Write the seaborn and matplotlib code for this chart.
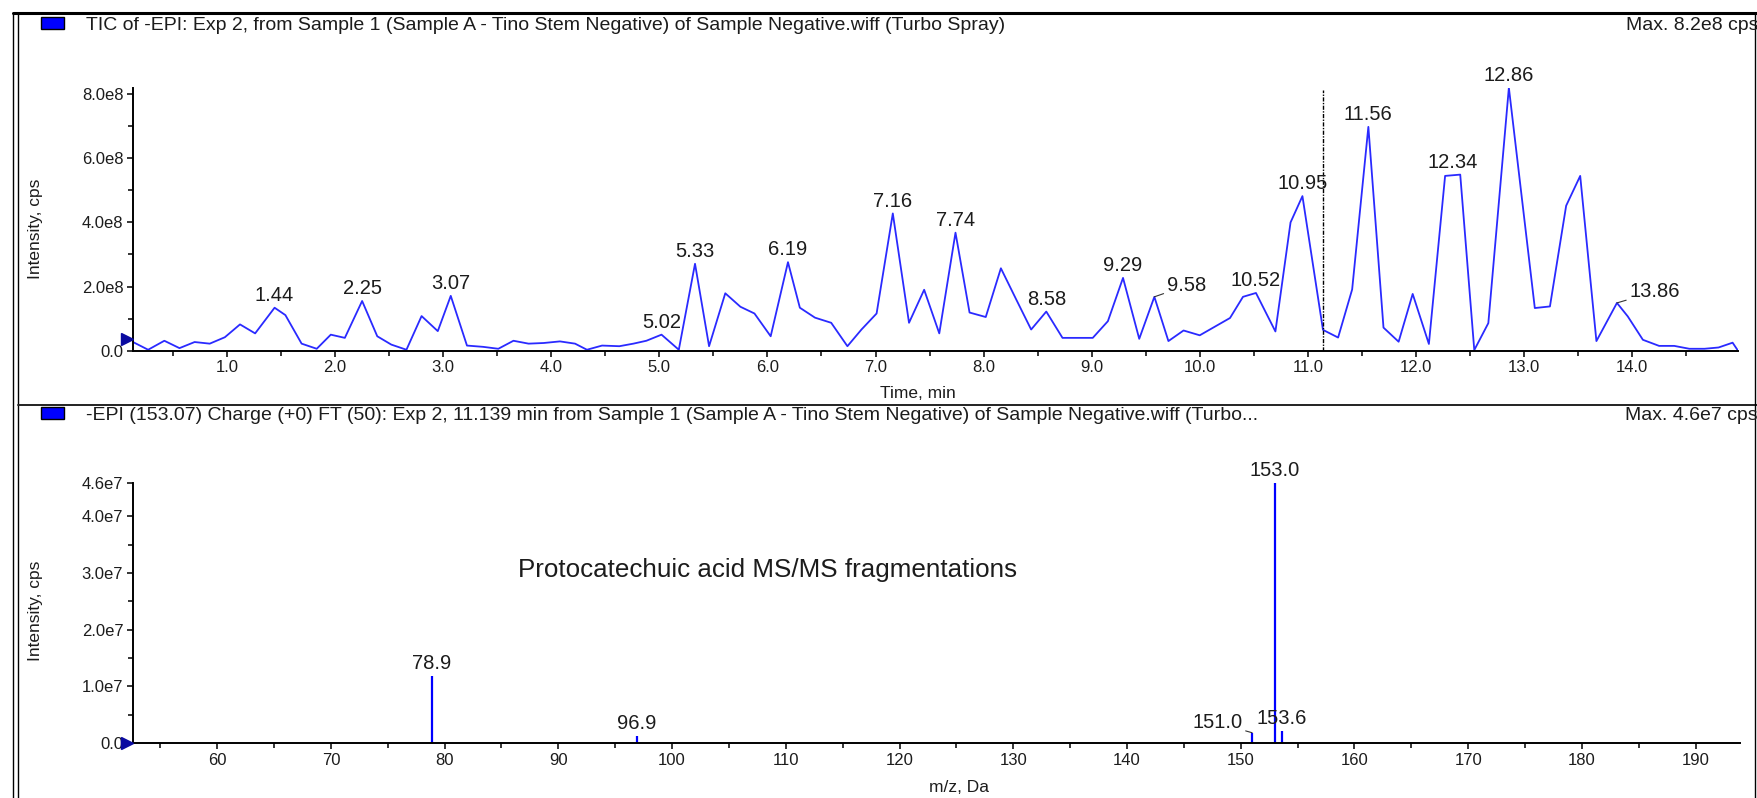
import numpy as np
import pandas as pd
import matplotlib
matplotlib.use("Agg")
import matplotlib.pyplot as plt
import matplotlib.transforms as mtransforms
from matplotlib.lines import Line2D
from matplotlib.patches import Rectangle
from matplotlib.ticker import FixedLocator, FuncFormatter
import seaborn as sns

# ---- TIC trace (retention time in min, intensity in cps) ----
tic_time = [0.13, 0.27, 0.42, 0.56, 0.70, 0.84, 0.98, 1.12, 1.26, 1.44, 1.54, 1.69,
            1.83, 1.96, 2.09, 2.25, 2.39, 2.52, 2.66, 2.80, 2.95, 3.07, 3.22, 3.37,
            3.51, 3.65, 3.79, 3.93, 4.08, 4.22, 4.33, 4.47, 4.63, 4.76, 4.88, 5.02,
            5.18, 5.33, 5.46, 5.61, 5.75, 5.88, 6.03, 6.19, 6.30, 6.44, 6.59, 6.74,
            6.87, 7.01, 7.16, 7.31, 7.45, 7.59, 7.74, 7.87, 8.02, 8.16, 8.30, 8.44,
            8.58, 8.73, 8.87, 9.01, 9.15, 9.29, 9.44, 9.58, 9.71, 9.85, 10.00, 10.14,
            10.28, 10.40, 10.52, 10.70, 10.84, 10.95, 11.14, 11.28, 11.41, 11.56, 11.70,
            11.84, 11.97, 12.12, 12.27, 12.41, 12.54, 12.67, 12.86, 13.10, 13.24, 13.39,
            13.52, 13.67, 13.86, 13.96, 14.10, 14.25, 14.39, 14.53, 14.67, 14.80, 14.93,
            14.98]
tic_intensity_e8 = [0.27, 0.03, 0.31, 0.08, 0.27, 0.22, 0.42, 0.82, 0.54, 1.34, 1.11, 0.22,
                    0.06, 0.50, 0.40, 1.55, 0.45, 0.19, 0.03, 1.08, 0.61, 1.71, 0.16, 0.12,
                    0.06, 0.31, 0.22, 0.24, 0.29, 0.22, 0.03, 0.16, 0.14, 0.22, 0.31, 0.50,
                    0.03, 2.71, 0.14, 1.79, 1.37, 1.16, 0.45, 2.76, 1.34, 1.03, 0.87, 0.14,
                    0.66, 1.16, 4.28, 0.87, 1.90, 0.54, 3.68, 1.19, 1.05, 2.57, 1.61, 0.66,
                    1.22, 0.40, 0.40, 0.40, 0.92, 2.27, 0.37, 1.68, 0.30, 0.63, 0.48, 0.75,
                    1.02, 1.68, 1.80, 0.60, 4.00, 4.82, 0.65, 0.41, 1.91, 6.98, 0.72,
                    0.28, 1.77, 0.21, 5.45, 5.49, 0.02, 0.86, 8.20, 1.33, 1.38, 4.52,
                    5.45, 0.30, 1.49, 1.07, 0.34, 0.15, 0.15, 0.06, 0.06, 0.10, 0.25,
                    0.00]
tic_intensity = [v * 1e8 for v in tic_intensity_e8]

# Peak labels on the TIC
tic_peaks = [1.44, 2.25, 3.07, 5.02, 5.33, 6.19, 7.16, 7.74, 8.58, 9.29, 9.58,
             10.52, 10.95, 11.56, 12.34, 12.86, 13.86]
tic_peaks_leader = [9.58, 13.86]
selected_time = 11.139

# ---- MS/MS spectrum at 11.139 min ----
ms_mz = [78.9, 96.9, 151.0, 153.0, 153.6]
ms_intensity = [1.18e7, 1.3e6, 1.8e6, 4.6e7, 2.1e6]
ms_leader = [151.0]

title_tic = ("TIC of -EPI: Exp 2, from Sample 1 (Sample A - Tino Stem Negative) "
             "of Sample Negative.wiff (Turbo Spray)")
title_ms = ("-EPI (153.07) Charge (+0) FT (50): Exp 2, 11.139 min from Sample 1 "
            "(Sample A - Tino Stem Negative) of Sample Negative.wiff (Turbo...")
max_tic = "Max. 8.2e8 cps"
max_ms = "Max. 4.6e7 cps"
note = "Protocatechuic acid MS/MS fragmentations"

# ---- styling ----
sns.set_theme(style="white")
plt.rcParams["font.family"] = ["Liberation Sans", "DejaVu Sans"]
TXT = "#1c1c1c"
TRACE = "#2a2aff"
STICK = "#0000ff"
PEAK_FS = 14.5
HEAD_FS = 14
LABEL_FS = 12.5

W, H = 1757, 798
fig = plt.figure(figsize=(W / 100, H / 100), dpi=100)
fig.patch.set_facecolor("white")


def frac_box(x0, x1, y_top, y_bot):
    return [x0 / W, 1 - y_bot / H, (x1 - x0) / W, (y_bot - y_top) / H]


ax1 = fig.add_axes(frac_box(133, 1738, 87.7, 350.7))
ax2 = fig.add_axes(frac_box(133, 1740, 482.5, 742.9))

for ax in (ax1, ax2):
    ax.set_facecolor("white")
    for s in ("top", "right"):
        ax.spines[s].set_visible(False)
    for s in ("left", "bottom"):
        ax.spines[s].set_color("black")
        ax.spines[s].set_linewidth(1.4)
    ax.tick_params(which="major", direction="out", length=4, width=1.1,
                   color="black", labelsize=12, labelcolor=TXT, pad=3,
                   left=True, bottom=True)
    ax.tick_params(which="minor", direction="out", length=3.5, width=1.1,
                   color="black", left=True, bottom=True)
    ax.grid(False)

# ---- TIC panel ----
df_tic = pd.DataFrame({"time": tic_time, "intensity": tic_intensity})
sns.lineplot(data=df_tic, x="time", y="intensity", ax=ax1, color=TRACE,
             linewidth=1.3, estimator=None, sort=False)
ax1.set_xlim(0.13, 14.98)
ax1.set_ylim(0, 8.2e8)
ax1.xaxis.set_major_locator(FixedLocator(np.arange(1, 15)))
ax1.xaxis.set_minor_locator(FixedLocator(np.arange(0.5, 15, 1.0)))
ax1.xaxis.set_major_formatter(FuncFormatter(lambda v, _: f"{v:.1f}"))
ax1.yaxis.set_major_locator(FixedLocator([0, 2e8, 4e8, 6e8, 8e8]))
ax1.yaxis.set_minor_locator(FixedLocator([1e8, 3e8, 5e8, 7e8]))
ax1.yaxis.set_major_formatter(
    FuncFormatter(lambda v, _: "0.0" if v == 0 else f"{v / 1e8:.1f}e8"))
ax1.axvline(selected_time, color="black", lw=1.0, ls=(0, (3, 1, 1, 1)),
            ymax=0.99)

for t in tic_peaks:
    y = float(np.interp(t, tic_time, tic_intensity))
    if t in tic_peaks_leader:
        ax1.annotate(f"{t:.2f}", xy=(t, y), xytext=(9, 8),
                     textcoords="offset points", ha="left", va="center",
                     fontsize=PEAK_FS, color=TXT,
                     arrowprops=dict(arrowstyle="-", lw=0.8, color="#333333",
                                     shrinkA=0, shrinkB=0))
    else:
        ax1.annotate(f"{t:.2f}", xy=(t, y), xytext=(0, 2),
                     textcoords="offset points", ha="center", va="bottom",
                     fontsize=PEAK_FS, color=TXT)

ax1.set_xlabel("Time, min", fontsize=LABEL_FS, color=TXT)
ax1.set_ylabel("Intensity, cps", fontsize=LABEL_FS, color=TXT)
ax1.xaxis.set_label_coords(0.489, -0.135)
ax1.yaxis.set_label_coords(-0.056, 0.463)

# ---- MS/MS panel ----
ax2.vlines(ms_mz, 0, ms_intensity, color=STICK, lw=1.6)
ax2.set_xlim(52.6, 193.9)
ax2.set_ylim(0, 4.6e7)
ax2.xaxis.set_major_locator(FixedLocator(np.arange(60, 191, 10)))
ax2.xaxis.set_minor_locator(FixedLocator(np.arange(55, 195, 10)))
ax2.xaxis.set_major_formatter(FuncFormatter(lambda v, _: f"{v:.0f}"))
ax2.yaxis.set_major_locator(FixedLocator([0, 1e7, 2e7, 3e7, 4e7, 4.6e7]))
ax2.yaxis.set_minor_locator(FixedLocator([0.5e7, 1.5e7, 2.5e7, 3.5e7]))
ax2.yaxis.set_major_formatter(
    FuncFormatter(lambda v, _: "0.0" if v == 0 else f"{v / 1e7:.1f}e7"))

for mz, inten in zip(ms_mz, ms_intensity):
    if mz in ms_leader:
        ax2.annotate(f"{mz:.1f}", xy=(mz, inten), xytext=(-7, 7),
                     textcoords="offset points", ha="right", va="center",
                     fontsize=PEAK_FS, color=TXT,
                     arrowprops=dict(arrowstyle="-", lw=0.8, color="#333333",
                                     shrinkA=0, shrinkB=0))
    else:
        ax2.annotate(f"{mz:.1f}", xy=(mz, inten), xytext=(0, 2),
                     textcoords="offset points", ha="center", va="bottom",
                     fontsize=PEAK_FS, color=TXT)

ax2.text(108.4, 3.05e7, note, ha="center", va="center", fontsize=18.7, color=TXT)
ax2.set_xlabel("m/z, Da", fontsize=LABEL_FS, color=TXT)
ax2.set_ylabel("Intensity, cps", fontsize=LABEL_FS, color=TXT)
ax2.xaxis.set_label_coords(0.514, -0.143)
ax2.yaxis.set_label_coords(-0.056, 0.507)

# threshold markers on the intensity axes
for ax, yv in ((ax1, 0.35e8), (ax2, 0.0)):
    tr = mtransforms.blended_transform_factory(ax.transAxes, ax.transData)
    ax.plot([-0.004], [yv], marker=">", color="#0a0aa0", markersize=9,
            transform=tr, clip_on=False, zorder=5)

# ---- window frame, pane separators and pane headers ----
def fig_line(xs, ys, **kw):
    fig.add_artist(Line2D([x / W for x in xs], [1 - y / H for y in ys],
                          transform=fig.transFigure, **kw))

fig_line([13, W], [12.5, 12.5], color="black", lw=2.2)
fig_line([13, 13], [12.5, H], color="black", lw=1.0)
fig_line([17.5, 17.5], [12.5, H], color="black", lw=1.0)
fig_line([17.5, W], [405, 405], color="#222222", lw=1.4)
fig_line([1755, 1755], [12.5, H], color="black", lw=1.0)

for y_top, y_c, title, mx in ((17, 26, title_tic, max_tic),
                              (407, 416, title_ms, max_ms)):
    fig.add_artist(Rectangle((41 / W, 1 - (y_top + 12) / H), 23 / W, 12 / H,
                             transform=fig.transFigure, facecolor="#0000ff",
                             edgecolor="black", lw=1.0))
    fig.text(86 / W, 1 - y_c / H, title, ha="left", va="center",
             fontsize=HEAD_FS, color=TXT)
    fig.text(1758 / W, 1 - y_c / H, mx, ha="right", va="center",
             fontsize=HEAD_FS, color=TXT)

fig.savefig("out.png", dpi=100, facecolor="white")
